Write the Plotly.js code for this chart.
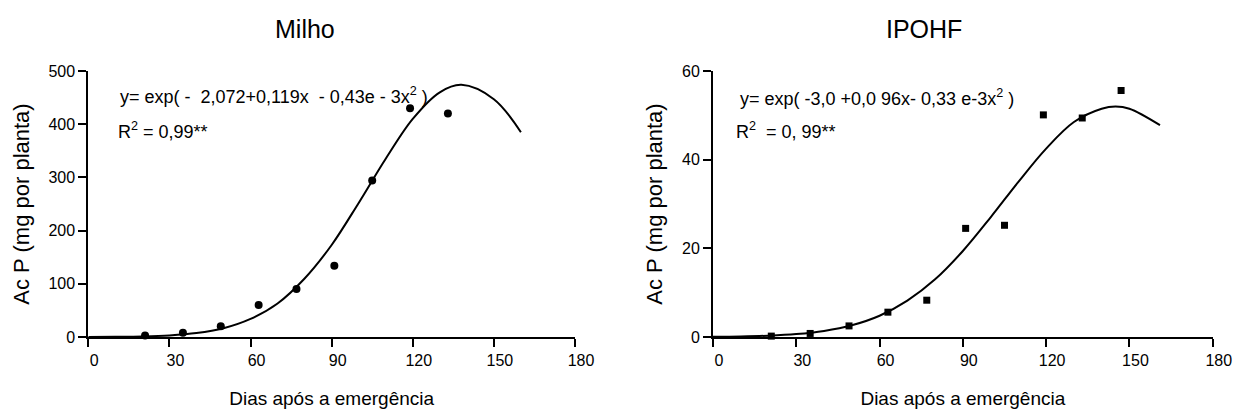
<!DOCTYPE html>
<html><head><meta charset="utf-8">
<script src="https://cdn.plot.ly/plotly-3.0.1.min.js"></script>
<style>body{margin:0;background:#fff}#chart{width:1240px;height:414px}</style>
</head><body><div id="chart"></div>
<script>
// Milho (left panel)
const milhoDays = [21, 35, 49, 63, 77, 91, 105, 119, 133];
const milhoAcP = [3, 8, 20, 60, 90, 134, 294, 430, 420];
const milhoCurveX = [0, 10, 20, 30, 40, 50, 60, 70, 80, 90, 100, 110, 120, 130, 138, 150, 160];
const milhoCurveY = [0.1, 0.4, 1.1, 3, 7.4, 16.5, 34, 63, 110, 173, 252, 335, 410, 460, 474, 447, 385];
// IPOHF (right panel)
const ipohfDays = [21, 35, 49, 63, 77, 91, 105, 119, 133, 147];
const ipohfAcP = [0.2, 0.8, 2.5, 5.6, 8.3, 24.5, 25.2, 50.1, 49.4, 55.6];
const ipohfCurveX = [0, 10, 20, 30, 40, 50, 60, 70, 80, 90, 100, 110, 120, 130, 140, 145, 150, 161];
const ipohfCurveY = [0.05, 0.13, 0.3, 0.66, 1.37, 2.65, 4.8, 8.2, 13, 19.4, 27, 35, 42.5, 48.5, 51.5, 52, 51.5, 47.8];
const xTicks = [0, 30, 60, 90, 120, 150, 180];

const font = 'Arial, "Liberation Sans", sans-serif';
const traces = [
  {x: milhoCurveX, y: milhoCurveY, mode: 'lines', line: {color: '#000', width: 2, shape: 'spline'}, xaxis: 'x', yaxis: 'y', cliponaxis: false},
  {x: milhoDays, y: milhoAcP, mode: 'markers', marker: {symbol: 'circle', size: 8, color: '#000'}, xaxis: 'x', yaxis: 'y', cliponaxis: false},
  {x: ipohfCurveX, y: ipohfCurveY, mode: 'lines', line: {color: '#000', width: 2, shape: 'spline'}, xaxis: 'x2', yaxis: 'y2', cliponaxis: false},
  {x: ipohfDays, y: ipohfAcP, mode: 'markers', marker: {symbol: 'square', size: 7, color: '#000'}, xaxis: 'x2', yaxis: 'y2', cliponaxis: false}
];
const xCommon = {range: [0, 180], tickvals: xTicks, ticks: 'outside', ticklen: 8, tickwidth: 2, tickcolor: '#000',
  showline: true, linecolor: '#000', linewidth: 2, showgrid: false, zeroline: false, ticklabelshift: 6,
  tickfont: {size: 16, color: '#000', family: font},
  title: {text: 'Dias após a emergência', font: {size: 19, color: '#000', family: font}, standoff: 24}};
const yCommon = {ticks: 'outside', ticklen: 8, tickwidth: 2, tickcolor: '#000', showline: true, linecolor: '#000', linewidth: 2,
  showgrid: false, zeroline: false, tickfont: {size: 16, color: '#000', family: font},
  title: {text: 'Ac P (mg por planta)', font: {size: 22, color: '#000', family: font}, standoff: 13}};
const layout = {
  width: 1240, height: 414, showlegend: false, paper_bgcolor: '#fff', plot_bgcolor: '#fff',
  margin: {l: 0, r: 0, t: 0, b: 0},
  xaxis: Object.assign({}, xCommon, {domain: [0.0712, 0.4637], anchor: 'y'}),
  yaxis: Object.assign({}, yCommon, {domain: [0.186, 0.8285], range: [0, 500], tickvals: [0, 100, 200, 300, 400, 500], anchor: 'x'}),
  xaxis2: Object.assign({}, xCommon, {domain: [0.575, 0.978], anchor: 'y2'}),
  yaxis2: Object.assign({}, yCommon, {domain: [0.186, 0.8285], range: [0, 60], tickvals: [0, 20, 40, 60], anchor: 'x2'}),
  annotations: [
    {text: 'Milho', xref: 'paper', yref: 'paper', x: 0.2463, y: 0.93, xanchor: 'center', yanchor: 'middle', showarrow: false, font: {size: 25, color: '#000', family: font}},
    {text: 'IPOHF', xref: 'paper', yref: 'paper', x: 0.7454, y: 0.93, xanchor: 'center', yanchor: 'middle', showarrow: false, font: {size: 25, color: '#000', family: font}},
    {text: 'y= exp( -  2,072+0,119x  - 0,43e - 3x<sup>2</sup> )', xref: 'paper', yref: 'paper', x: 118/1240, y: 1 - 95/414, xanchor: 'left', yanchor: 'middle', showarrow: false, font: {size: 18, color: '#000', family: font}},
    {text: 'R<sup>2</sup> = 0,99**', xref: 'paper', yref: 'paper', x: 116/1240, y: 1 - 130/414, xanchor: 'left', yanchor: 'middle', showarrow: false, font: {size: 18, color: '#000', family: font}},
    {text: 'y= exp( -3,0 +0,0 96x- 0,33 e-3x<sup>2</sup> )', xref: 'paper', yref: 'paper', x: 738/1240, y: 1 - 97/414, xanchor: 'left', yanchor: 'middle', showarrow: false, font: {size: 18, color: '#000', family: font}},
    {text: 'R<sup>2</sup>  = 0, 99**', xref: 'paper', yref: 'paper', x: 734/1240, y: 1 - 130/414, xanchor: 'left', yanchor: 'middle', showarrow: false, font: {size: 18, color: '#000', family: font}}
  ]
};
Plotly.newPlot('chart', traces, layout, {displayModeBar: false, staticPlot: true});
</script></body></html>
